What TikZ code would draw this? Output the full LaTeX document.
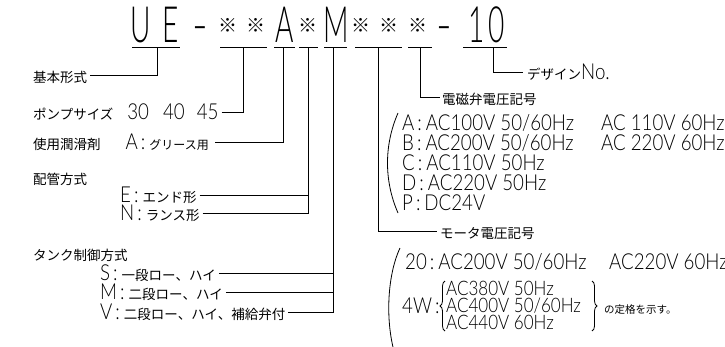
\documentclass[tikz,border=0pt]{standalone}
\usepackage{fontspec}
\usepackage{graphicx}
\usetikzlibrary{decorations.pathreplacing}
\setmainfont{Lato Light}[FakeStretch=0.85]
\newfontfamily\jpfont{Noto Sans CJK JP}
\newcommand\J[1]{{\jpfont\fontsize{13.5}{14}\selectfont #1}}
\newcommand\Js[1]{{\jpfont\fontsize{12}{13}\selectfont #1}}
\newcommand\Jt[1]{{\jpfont\fontsize{10.5}{12}\selectfont #1}}
\newcommand\cln{\hspace{3pt}:\hspace{4pt}}
\tikzset{
  lab/.style={anchor=west, inner sep=0pt, text height=14pt, text depth=0pt,
    font=\fontsize{22}{22}\selectfont},
  sub/.style={lab, text height=13pt, font=\fontsize{20}{20}\selectfont},
  tch/.style={anchor=base, inner sep=0pt, font=\fontsize{50}{50}\selectfont},
  kome/.style={anchor=center, inner sep=0pt, font=\jpfont\fontsize{19}{19}\selectfont},
  ln/.style={line width=0.8pt, black},
  brk/.style={line width=0.8pt, black},
}
\begin{document}
\begin{tikzpicture}[x=1pt,y=-1pt]
\useasboundingbox (0,0) rectangle (725,346);
% title
\node[tch] (cU) at (141,42) {\scalebox{0.66}[1]{U}};
\node[tch] (cE) at (171,42) {\scalebox{0.66}[1]{E}};
\node[tch] (d1) at (200,42) {-};
\node[kome] (k1) at (228,25) {※};
\node[kome] (k2) at (256,25) {※};
\node[tch] (cA) at (285,42) {\scalebox{0.66}[1]{A}};
\node[kome] (k3) at (308,25) {※};
\node[tch] (cM) at (336,42) {\scalebox{0.66}[1]{M}};
\node[kome] (k4) at (361,25) {※};
\node[kome] (k5) at (389,25) {※};
\node[kome] (k6) at (418,25) {※};
\node[tch] (d2) at (444,42) {-};
\node[tch] (c10) at (487,42) {\scalebox{0.66}[1]{1\hspace{6pt}0}};
% underlines
\draw[ln] (132,47) -- (180,47);
\draw[ln] (220,47) -- (267,47);
\draw[ln] (274,47) -- (295,47);
\draw[ln] (299,47) -- (318,47);
\draw[ln] (324,47) -- (347,47);
\draw[ln] (355,47) -- (402,47);
\draw[ln] (408,47) -- (432,47);
\draw[ln] (463,47) -- (507,47);
\coordinate (t1) at (157,47);
\coordinate (t2) at (243,47);
\coordinate (t3) at (283,47);
\coordinate (t4) at (308,47);
\coordinate (t5) at (333,47);
\coordinate (t6) at (378,47);
\coordinate (t7) at (420,47);
\coordinate (t8) at (493,47);
% left labels
\node[lab] (kihon) at (33,75) {\J{基本形式}};
\node[lab] (pump) at (33,112) {\J{ポンプサイズ}\hspace{14pt}30\hspace{14pt}40\hspace{12pt}45};
\node[lab] (jun) at (33,142) {\J{使用潤滑剤}\hspace{25pt}A\cln\Js{グリース用}};
\node[lab] (haikan) at (33,177) {\J{配管方式}};
\node[lab] (pE) at (120,195) {E\cln\J{エンド形}};
\node[lab] (pN) at (120,213) {N\cln\J{ランス形}};
\node[lab] (tank) at (33,253) {\J{タンク制御方式}};
\node[lab] (tS) at (100,273) {S\cln\J{一段ロー、ハイ}};
\node[lab] (tM) at (100,292) {M\cln\J{二段ロー、ハイ}};
\node[lab] (tV) at (100,312) {V\cln\J{二段ロー、ハイ、補給弁付}};
% right labels
\node[lab] (design) at (527,72) {\J{デザイン}No.};
\node[lab] (denji) at (442,97) {\J{電磁弁電圧記号}};
\node[lab] (vA) at (402,123) {A\cln AC100V 50/60Hz};
\node[lab] (vA2) at (601,123) {AC 110V 60Hz};
\node[lab] (vB) at (402,143) {B\cln AC200V 50/60Hz};
\node[lab] (vB2) at (601,143) {AC 220V 60Hz};
\node[lab] (vC) at (402,163) {C\cln AC110V 50Hz};
\node[lab] (vD) at (402,183) {D\cln AC220V 50Hz};
\node[lab] (vP) at (402,203) {P\cln DC24V};
\node[lab] (motor) at (440,231) {\J{モータ電圧記号}};
\node[lab] (m20) at (405,262) {20\cln AC200V 50/60Hz};
\node[lab] (m20b) at (609,262) {AC220V 60Hz};
\node[lab] (m4w) at (402,306) {4W\cln};
\node[sub] (r1) at (446,289) {AC380V 50Hz};
\node[sub] (r2) at (446,306) {AC400V 50/60Hz};
\node[sub] (r3) at (446,323) {AC440V 60Hz};
\node[lab] (note) at (604,306) {\Jt{の定格を示す。}};
% brackets
\draw[brk] (398,113) .. controls (384,145) and (384,181) .. (398,213);
\draw[brk] (400,248) .. controls (385,280) and (385,336) .. (400,368);
\draw[brk, decorate, decoration={brace, amplitude=5pt}] (445,331) -- (445,281);
\draw[brk, decorate, decoration={brace, amplitude=5pt}] (592,281) -- (592,331);
% connectors
\draw[ln] (kihon.east) ++(3,0) -| (t1);
\draw[ln] (pump.east) ++(3,0) -| (t2);
\draw[ln] (jun.east) ++(6,0) -| (t3);
\draw[ln] (pE.east) ++(3,0) -- (pE.east -| t4);
\draw[ln] (pN.east) ++(3,0) -| (t4);
\draw[ln] (tS.east) ++(3,0) -- (tS.east -| t5);
\draw[ln] (tM.east) ++(3,0) -- (tM.east -| t5);
\draw[ln] (tV.east) ++(3,0) -| (t5);
\draw[ln] (t6) |- ([xshift=-3pt]motor.west);
\draw[ln] (t7) |- ([xshift=-2pt]denji.west);
\draw[ln] (t8) |- ([xshift=-4pt]design.west);
\end{tikzpicture}
\end{document}
